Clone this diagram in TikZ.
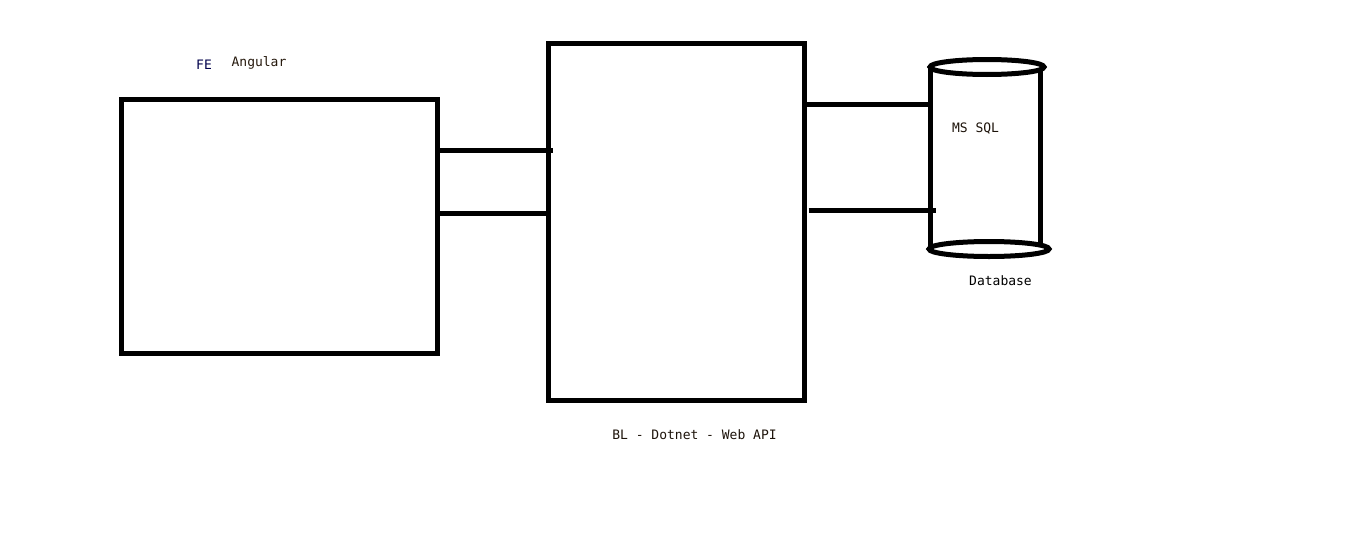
\documentclass[tikz,border=0pt]{standalone}
\usepackage{fontspec}
\setmonofont{DejaVu Sans Mono}
\usetikzlibrary{calc}
\tikzset{box/.style={draw, line width=5pt, minimum width=#1},
         wire/.style={line width=5pt},
         lbl/.style={font=\ttfamily\fontsize{13}{15}\selectfont, inner sep=0pt}}

\begin{document}
\begin{tikzpicture}[x=1pt,y=-1pt]
\useasboundingbox[fill=white] (0,0) rectangle (1360,546);
% boxes
\node[box=316pt, minimum height=254pt] (fe) at (279,226) {};
\node[box=256pt, minimum height=357pt] (bl) at (676,221.5) {};
% database
\coordinate (dbtop) at (987,67);
\coordinate (dbbot) at (989,249);
\draw[wire] (930,67) -- (930,249);
\draw[wire] (1040,67) -- (1040,249);
\draw[wire, fill=white] (dbtop) ellipse [x radius=57, y radius=7.5];
\draw[wire, fill=white] (dbbot) ellipse [x radius=60, y radius=7.5];
% wires
\draw[wire] ($(fe.east |- 0,150)+(-4,0)$) -- ($(bl.west |- 0,150)+(7,0)$);
\draw[wire] (fe.east |- 0,213) -- (bl.west |- 0,213);
\draw[wire] (bl.east |- 0,104) -- (930,104);
\draw[wire] ($(bl.east |- 0,210)+(2,0)$) -- (936,210);
% labels
\node[lbl, text=blue!30!black] (felbl) at (204,65) {FE};
\node[lbl, text=brown!20!black] (nglbl) at (259,63) {Angular};
\node[lbl, text=brown!15!black] (bllbl) at (694.5,435) {BL - Dotnet - Web API};
\node[lbl, text=brown!15!black] (sqllbl) at (975.5,129) {MS SQL};
\node[lbl] (dblbl) at (1000.5,281) {Database};
\end{tikzpicture}
\end{document}
